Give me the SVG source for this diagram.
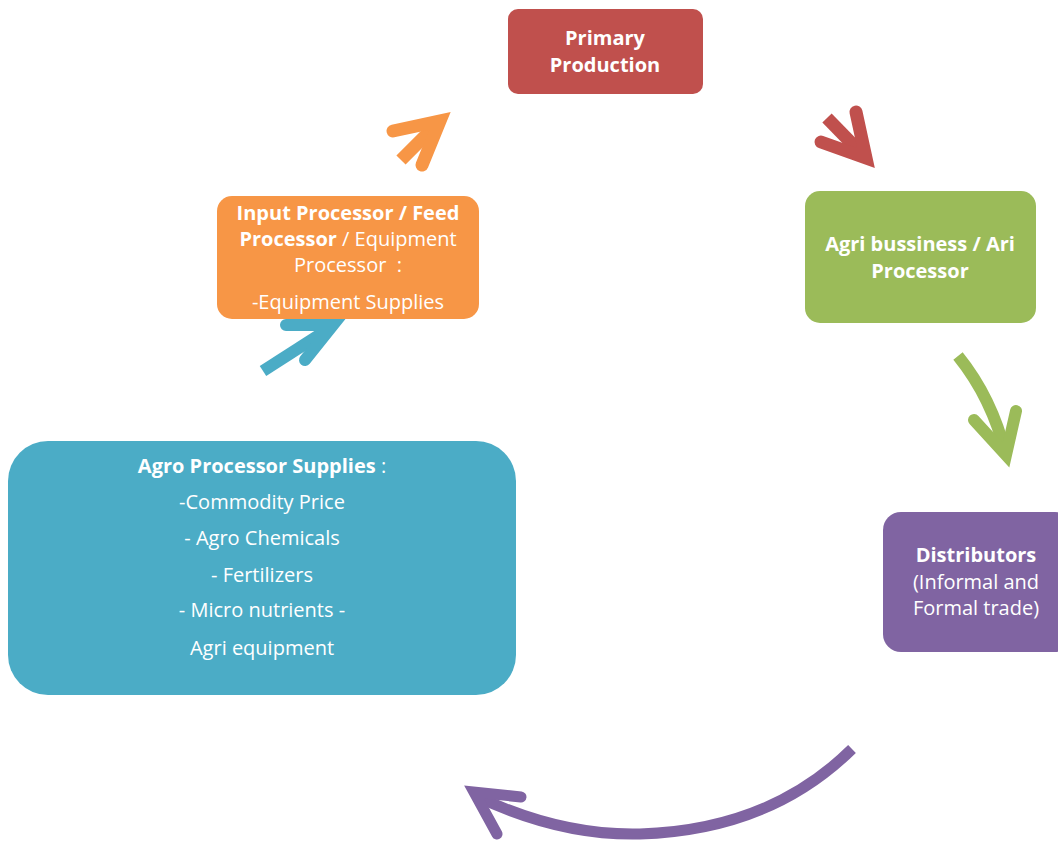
<svg xmlns="http://www.w3.org/2000/svg" width="1058" height="843" viewBox="0 0 1058 843">
  <style>
    text { font-family: "Open Sans", "Noto Sans", "Liberation Sans", sans-serif; font-size: 20px; fill: #ffffff; text-anchor: middle; white-space: pre; }
    .b { font-weight: bold; }
    .shaft { fill: none; stroke-linecap: butt; }
    .head { fill: none; stroke-linejoin: miter; stroke-miterlimit: 10; stroke-linecap: round; }
  </style>
  <rect width="1058" height="843" fill="#ffffff"/>

  <!-- cycle connectors -->
  <g id="connectors">
    <!-- input processor to primary production -->
    <g stroke="#F79646" stroke-width="13">
      <line class="shaft" x1="401" y1="160" x2="440" y2="121"/>
      <path class="head" d="M393 131 L440 121 L422 165"/>
    </g>
    <!-- primary production to agri business -->
    <g stroke="#C0504D" stroke-width="13">
      <line class="shaft" x1="827" y1="118" x2="866" y2="158"/>
      <path class="head" d="M856 112 L866 158 L821 142"/>
    </g>
    <!-- agri business to distributors -->
    <g stroke="#9BBB59" stroke-width="12">
      <path class="shaft" d="M958 356 Q992 398 1006 455"/>
      <path class="head" d="M974 420 L1006 455 L1016 411"/>
    </g>
    <!-- distributors back to supplies -->
    <g stroke="#8064A2" stroke-width="11">
      <path class="shaft" d="M852 749 Q770 830 640 834 Q560 836 476 796"/>
      <path class="head" d="M521 797 L474 792 L497 834"/>
    </g>
    <!-- supplies to input processor -->
    <g stroke="#4BACC6" stroke-width="12">
      <line class="shaft" x1="263" y1="371" x2="330" y2="328"/>
      <path class="head" d="M286 325 L333 325 L305 360"/>
    </g>
  </g>

  <g id="primary-production">
    <rect x="508" y="9" width="195" height="85" rx="10" fill="#C0504D"/>
    <text class="b" x="605" y="45">Primary</text>
    <text class="b" x="605" y="72">Production</text>
  </g>

  <g id="agri-business">
    <rect x="805" y="191" width="231" height="132" rx="15" fill="#9BBB59"/>
    <text class="b" x="920" y="251">Agri bussiness / Ari</text>
    <text class="b" x="920" y="278">Processor</text>
  </g>

  <g id="distributors">
    <rect x="883" y="512" width="190" height="140" rx="18" fill="#8064A2"/>
    <text class="b" x="976" y="562">Distributors</text>
    <text x="976" y="589">(Informal and</text>
    <text x="976" y="615">Formal trade)</text>
  </g>

  <g id="agro-processor-supplies">
    <rect x="8" y="441" width="508" height="254" rx="40" fill="#4BACC6"/>
    <text x="262" y="473"><tspan class="b">Agro Processor Supplies</tspan> :</text>
    <text x="262" y="509">-Commodity Price</text>
    <text x="262" y="545">- Agro Chemicals</text>
    <text x="262" y="582">- Fertilizers</text>
    <text x="262" y="617">- Micro nutrients -</text>
    <text x="262" y="655">Agri equipment</text>
  </g>

  <g id="input-processor">
    <rect x="217" y="196" width="262" height="123" rx="15" fill="#F79646"/>
    <text class="b" x="348" y="220">Input Processor / Feed</text>
    <text x="348" y="246"><tspan class="b">Processor</tspan> / Equipment</text>
    <text x="348" y="272">Processor  :</text>
    <text x="348" y="309">-Equipment Supplies</text>
  </g>
</svg>
